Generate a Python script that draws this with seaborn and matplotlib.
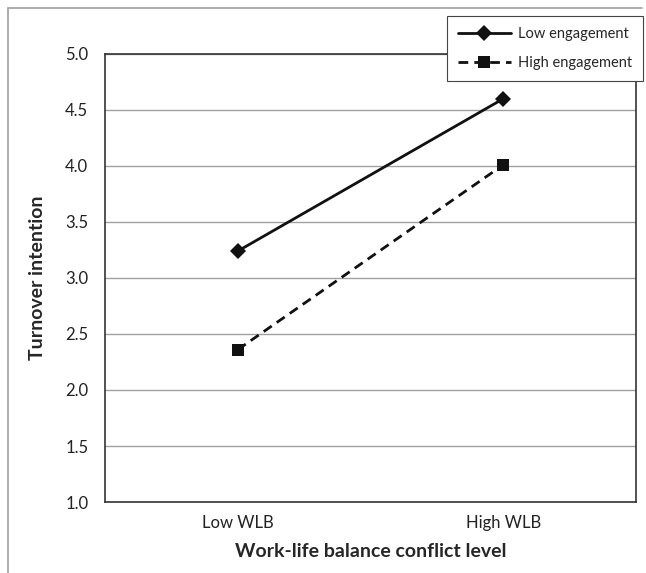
import pandas as pd
import matplotlib.pyplot as plt
import matplotlib.lines as mlines
import seaborn as sns

# Datos
niveles = ["Low WLB", "High WLB"]
grupos = ["Low engagement", "High engagement"]
low_engagement = [3.24, 4.60]
high_engagement = [2.36, 4.01]

df = pd.DataFrame({
    "nivel": niveles * 2,
    "grupo": [grupos[0]] * 2 + [grupos[1]] * 2,
    "valor": low_engagement + high_engagement,
})

sns.set_style("white")
plt.rcParams["font.family"] = ["Lato", "DejaVu Sans"]

fig = plt.figure(figsize=(6.46, 5.73), dpi=100)
ax = fig.add_axes([0.1625, 0.1239, 0.822, 0.7819])

sns.lineplot(data=df, x="nivel", y="valor", hue="grupo", style="grupo",
             palette={grupos[0]: "#111111", grupos[1]: "#111111"},
             markers={grupos[0]: "D", grupos[1]: "s"},
             dashes={grupos[0]: "", grupos[1]: (3.5, 2.2)},
             markersize=8.5, markeredgewidth=0, linewidth=2, ax=ax)

ax.set_ylim(1.0, 5.0)
ax.set_xlim(-0.5, 1.5)
ax.set_yticks([1.0, 1.5, 2.0, 2.5, 3.0, 3.5, 4.0, 4.5, 5.0])
ax.set_yticklabels([f"{v:.1f}" for v in ax.get_yticks()])
ax.yaxis.grid(True, color="#a0a0a0", linewidth=1)
ax.tick_params(axis="both", labelsize=12, colors="#222222", length=0)
ax.tick_params(axis="x", pad=9)
ax.tick_params(axis="y", pad=12)
for s in ax.spines.values():
    s.set_color("#333333")
    s.set_linewidth(1.2)

ax.set_xlabel("Work-life balance conflict level", fontsize=14, fontweight="bold", labelpad=9)
ax.set_ylabel("Turnover intention", fontsize=14, fontweight="bold", labelpad=14)

# Leyenda fuera del eje
h = ax.get_legend_handles_labels()
ax.get_legend().remove()
leg = fig.legend(h[0], h[1], loc="upper right", bbox_to_anchor=(0.9954, 0.9721),
                 bbox_transform=fig.transFigure, borderaxespad=0, fontsize=10.5,
                 handlelength=3.6, fancybox=False, framealpha=1, edgecolor="#444444",
                 borderpad=0.75, labelspacing=1.05, handletextpad=0.5)
leg.get_frame().set_linewidth(0.8)

# Borde exterior
fig.add_artist(mlines.Line2D([8 / 646, 8 / 646], [0, 1 - 8 / 573], color="#a0a0a0", lw=1.2))
fig.add_artist(mlines.Line2D([8 / 646, 642 / 646], [1 - 8 / 573, 1 - 8 / 573], color="#a0a0a0", lw=1.2))

fig.savefig("out.png", dpi=100)
